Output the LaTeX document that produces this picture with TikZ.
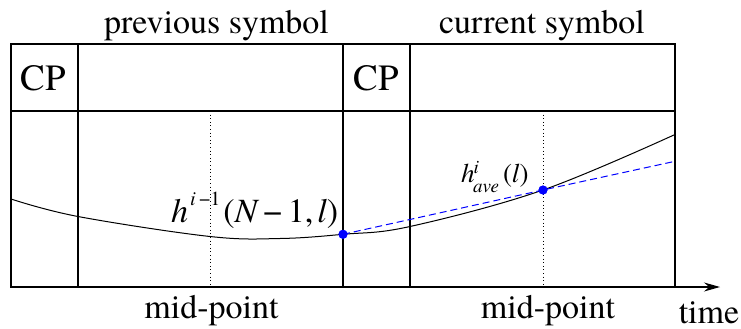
\documentclass[tikz,border=0pt]{standalone}
\usepackage{fontspec}
\setmainfont{texgyretermes}[Extension=.otf, UprightFont=*-regular, ItalicFont=*-italic, BoldFont=*-bold, BoldItalicFont=*-bolditalic]
\usetikzlibrary{arrows.meta}
\begin{document}
\begin{tikzpicture}[x=1pt,y=-1pt,
  frame/.style={line width=1.1pt},
  midline/.style={line width=0.8pt, dash pattern=on 1pt off 2.6pt},
  lbl/.style={font=\fontsize{34}{40}\selectfont, inner sep=0pt, anchor=base},
  cptext/.style={font=\fontsize{37}{44}\selectfont, inner sep=0pt, anchor=base},
  dot/.style={circle, fill=blue, draw=none, inner sep=0pt, minimum size=9pt},
  chan/.style={line width=1pt},
  approx/.style={blue, line width=1pt, dash pattern=on 7pt off 4pt},
  axis/.style={line width=1.1pt, -{Stealth[length=16pt,width=9pt]}}]
\useasboundingbox (0,0) rectangle (741,329);

% grid coordinates
\coordinate (tl) at (11,44);
\coordinate (br) at (675,287);
\coordinate (ml) at (11,111);
\coordinate (mr) at (675,111);
\coordinate (v1t) at (78,44);  \coordinate (v1b) at (78,287);
\coordinate (v2t) at (343,44); \coordinate (v2b) at (343,287);
\coordinate (v3t) at (410,44); \coordinate (v3b) at (410,287);
\coordinate (m1t) at (210,111); \coordinate (m1b) at (210,287);
\coordinate (m2t) at (543,111); \coordinate (m2b) at (543,287);
\coordinate (ax0) at (11,287);
\coordinate (ax1) at (720,287);

% frame
\draw[frame] (tl) rectangle (br);
\draw[frame] (ml) -- (mr);
\draw[frame] (v1t) -- (v1b);
\draw[frame] (v2t) -- (v2b);
\draw[frame] (v3t) -- (v3b);
\draw[midline] (m1t) -- (m1b);
\draw[midline] (m2t) -- (m2b);
\draw[axis] (ax0) -- (ax1);

% channel curve
\draw[chan] plot[smooth, tension=0.6] coordinates
  {(11,199) (78,216.5) (210,236.5) (280,238.5) (343,234.3) (410,226.5) (543,190) (675,134.5)};

% linear approximation
\coordinate (pend) at (675,161.3);
\node[dot] (d1) at (343,234.3) {};
\node[dot] (d2) at (543,190) {};
\draw[approx] (d1.center) -- (d2.center) -- (pend);
\node[dot] at (d1.center) {};
\node[dot] at (d2.center) {};

% labels
\node[lbl] (prev) at (216.5,33.5) {previous symbol};
\node[lbl] (curr) at (542,34) {current symbol};
\node[cptext] (cp1) at (43,90.7) {CP};
\node[cptext] (cp2) at (376.5,90.7) {CP};
\node[lbl] (mid1) at (211.5,318) {mid-point};
\node[lbl] (mid2) at (548,318) {mid-point};
\node[lbl] (time) at (709,323) {time};

\node[lbl, anchor=base west] (hprev) at (171,222)
  {\itshape h\hspace{2pt}\raisebox{17pt}{\fontsize{20}{24}\selectfont i\upshape\,−1}\hspace{3pt}\upshape(\itshape N\upshape\,−\,1,\hspace{4pt}\itshape l\upshape)};
\node[lbl, anchor=base west, font=\fontsize{27}{30}\selectfont] (have) at (461,182)
  {\itshape h\hspace{-1.5pt}\rlap{\raisebox{9pt}{\fontsize{19}{22}\selectfont\hspace{0.5pt}i}}\raisebox{-10.5pt}{\fontsize{19}{22}\selectfont ave}\hspace{4pt}\upshape(\itshape l\upshape)};
\end{tikzpicture}
\end{document}
